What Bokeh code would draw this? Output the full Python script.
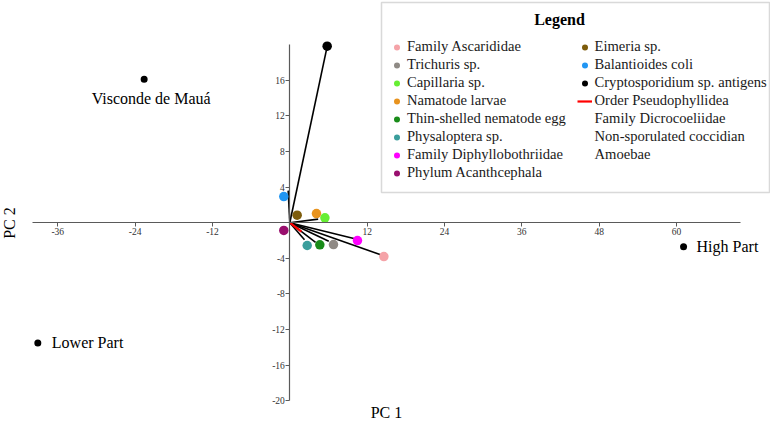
from bokeh.plotting import figure
from bokeh.models import (ColumnDataSource, Legend, LegendItem, Label, BoxAnnotation,
                          FixedTicker, Range1d)
from bokeh.core.properties import value
from bokeh.embed import file_html
from bokeh.resources import INLINE

# ---------------- data ----------------
parasites = ["Family Ascarididae", "Trichuris sp.", "Capillaria sp.", "Namatode larvae",
             "Thin-shelled nematode egg", "Physaloptera sp.", "Family Diphyllobothriidae",
             "Phylum Acanthcephala", "Eimeria sp.", "Balantioides coli",
             "Cryptosporidium sp. antigens"]
parasite_pc1 = [14.6, 6.78, 5.45, 4.14, 4.66, 2.7, 10.5, -0.93, 1.14, -0.93, 5.8]
parasite_pc2 = [-3.8, -2.45, 0.55, 1.03, -2.48, -2.56, -2.0, -0.87, 0.84, 2.93, 19.82]
parasite_colors = ["#F5A3A8", "#8F8A85", "#66EE33", "#E8931E", "#198C19", "#3A9E9C",
                   "#FF00FF", "#990F6E", "#7D5C0C", "#2196F3", "#000000"]

vector_pc1 = [14.1, 6.05, 4.4, 4.0, 2.28, 10.1, -0.25, 5.8]
vector_pc2 = [-3.6, -2.08, 0.4, -2.2, -1.92, -1.8, 3.6, 19.8]

red_vector_name = "Order Pseudophyllidea"
red_pc1 = [1.8]
red_pc2 = [-1.0]

no_marker_items = ["Family Dicrocoeliidae", "Non-sporulated coccidian", "Amoebae"]

sites = ["Visconde de Mauá", "Lower Part", "High Part"]
site_pc1 = [-22.6, -39.1, 61.1]
site_pc2 = [16.1, -13.5, -2.7]

x_ticks = [-36, -24, -12, 12, 24, 36, 48, 60]
x_tick_labels = ["-36", "-24", "-12", "12", "24", "36", "48", "60"]
y_ticks = [-20, -16, -12, -8, -4, 4, 8, 12, 16]
y_tick_labels = ["-20", "-16", "-12", "-8", "-4", "4", "8", "12", "16"]

# ---------------- styles ----------------
SERIF = "Liberation Serif"
site_label_dx = [7, 14, 13]
site_label_dy = [19, 0, 0]
site_label_align = ["center", "left", "left"]

W, H = 770, 421
p = figure(width=W, height=H, output_backend="svg", toolbar_location=None,
           x_range=Range1d(-44.89, 74.59), y_range=Range1d(-22.32, 24.95),
           min_border=0, min_border_left=0, min_border_right=0,
           min_border_top=0, min_border_bottom=0,
           outline_line_color=None, background_fill_color="white",
           border_fill_color="white")
p.grid.visible = False

for ax, ticks, labels, bnds in ((p.xaxis, x_ticks, x_tick_labels, (-40, 70)),
                                (p.yaxis, y_ticks, y_tick_labels, (-20, 20))):
    ax.fixed_location = 0
    ax.bounds = bnds
    ax.ticker = FixedTicker(ticks=ticks)
    ax.major_label_overrides = dict(zip(ticks, labels))
    ax.axis_line_color = "#5a5a5a"
    ax.axis_line_width = 1.2
    ax.major_tick_line_color = "#5a5a5a"
    ax.major_tick_out = 4
    ax.major_tick_in = 0
    ax.minor_tick_out = 0
    ax.minor_tick_in = 0
    ax.major_label_text_font = SERIF
    ax.major_label_text_font_size = "9.5px"
    ax.major_label_text_color = "#333333"
    ax.major_label_standoff = 1
    ax.axis_label = None

# vectors
p.segment(x0=0, y0=0, x1=vector_pc1, y1=vector_pc2, line_color="black", line_width=1.6)
red = p.segment(x0=0, y0=0, x1=red_pc1, y1=red_pc2, line_color="#FF0000", line_width=2.2)

# parasite points
psrc = ColumnDataSource(dict(x=parasite_pc1, y=parasite_pc2, c=parasite_colors, n=parasites))
pts = p.scatter("x", "y", source=psrc, size=9.5, fill_color="c", line_color=None)

# empty renderer for text-only legend entries
blank = p.scatter(x=[], y=[], size=0, fill_alpha=0, line_alpha=0)

# sites
ssrc = ColumnDataSource(dict(x=site_pc1, y=site_pc2, t=sites, dx=site_label_dx,
                             dy=site_label_dy, al=site_label_align))
p.scatter("x", "y", source=ssrc, size=7, fill_color="black", line_color=None)
p.text("x", "y", text="t", source=ssrc, x_offset="dx", y_offset="dy", text_align="al",
       text_baseline="middle", text_font=value(SERIF), text_font_size="16px",
       text_color="black")

# legend
items = [LegendItem(label=value(n), renderers=[pts], index=i) for i, n in enumerate(parasites)]
items.append(LegendItem(label=value(red_vector_name), renderers=[red]))
items += [LegendItem(label=value(n), renderers=[blank]) for n in no_marker_items]

common = dict(orientation="vertical", border_line_color=None, background_fill_alpha=0,
              padding=0, margin=0, spacing=0, glyph_width=15, glyph_height=18,
              label_height=18, label_standoff=3, label_text_font=SERIF,
              label_text_font_size="14.6px", label_text_color="#1a1a1a")
leg1 = Legend(items=items[:8], location=(389, 239.5), **common)
leg2 = Legend(items=items[8:], location=(576.5, 257.5), **common)
p.add_layout(leg1)
p.add_layout(leg2)

p.add_layout(BoxAnnotation(left=381, right=769, top=419, bottom=229,
                           left_units="screen", right_units="screen",
                           top_units="screen", bottom_units="screen",
                           fill_alpha=0, line_color="#808080", line_width=1.5))
p.add_layout(Label(x=559, y=402, x_units="screen", y_units="screen", text="Legend",
                   text_font=SERIF, text_font_size="16px", text_font_style="bold",
                   text_align="center", text_baseline="middle", text_color="black"))

# axis titles
p.add_layout(Label(x=386, y=9, x_units="screen", y_units="screen", text="PC 1",
                   text_font=SERIF, text_font_size="16px", text_align="center",
                   text_baseline="middle", text_color="black"))
p.add_layout(Label(x=9, y=198.5, x_units="screen", y_units="screen", text="PC 2",
                   angle=1.5708, text_font=SERIF, text_font_size="16px",
                   text_align="center", text_baseline="middle", text_color="black"))

open("out.html", "w").write(file_html(p, INLINE))
